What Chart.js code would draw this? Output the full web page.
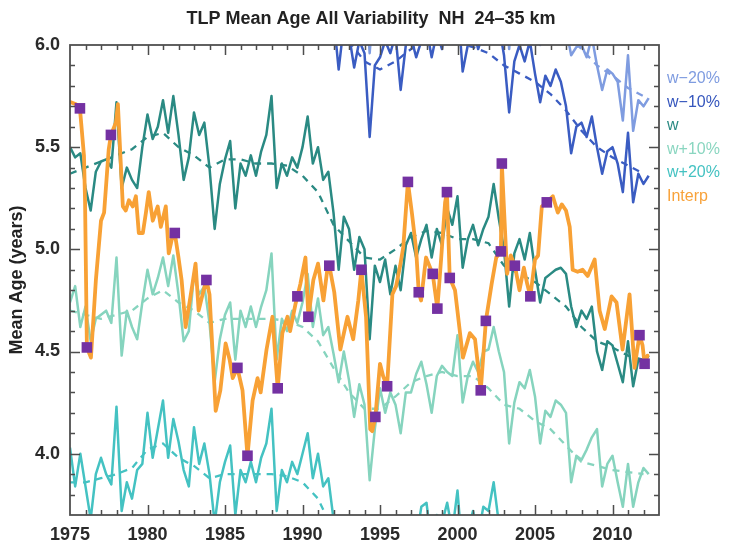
<!DOCTYPE html>
<html><head><meta charset="utf-8">
<script src="https://cdn.jsdelivr.net/npm/chart.js@4.4.1/dist/chart.umd.min.js"></script>
<style>html,body{margin:0;padding:0;background:#fff;}#wrap{width:730px;height:545px;}</style>
</head><body><div id="wrap"><canvas id="c" width="730" height="545"></canvas></div>
<script>
// ---- data (model output every 4 months) ----
const STEP = 1/3;
const wStart = 1975, wm10Start = 1990, wm20Start = 1992;
const wVals = [
 5.50,5.45,5.47, 5.30,5.19,5.38, 5.43,5.44,5.40, 5.72,5.30,5.40, 5.34,5.30,5.50,
 5.66,5.54,5.60, 5.73,5.57,5.75, 5.56,5.34,5.45, 5.67,5.56,5.62, 5.40,5.10,5.32,
 5.44,5.53,5.20, 5.42,5.36,5.46, 5.36,5.48,5.56, 5.75,5.30,5.42, 5.36,5.45,5.40,
 5.50,5.65,5.42, 5.50,5.34,5.38, 5.18,4.90,5.16, 5.10,4.90,5.06, 5.00,4.56,4.92,
 4.84,4.95,4.78, 4.92,4.80,5.02, 5.08,4.96,5.05, 5.12,4.96,5.10, 5.02,5.20,5.12,
 5.26,4.91,5.05, 5.12,5.02,5.10, 5.16,5.32,5.15, 5.00,4.72,4.98, 5.05,4.95,5.08,
 4.90,4.74,4.86, 4.88,4.90,4.91, 4.88,4.72,4.62, 4.70,4.66,4.72, 4.50,4.41,4.55,
 4.53,4.44,4.35, 4.55,4.33,4.46, 4.44,4.48];
const wp10Vals = [
 4.74,4.82,4.62, 4.72,4.55,4.66, 4.68,4.70,4.64, 4.96,4.48,4.70, 4.62,4.56,4.74,
 4.90,4.78,4.86, 4.96,4.82,4.97, 4.78,4.55,4.60, 4.88,4.78,4.82, 4.64,4.35,4.56,
 4.68,4.74,4.46, 4.70,4.62,4.72, 4.62,4.72,4.80, 4.98,4.46,4.66, 4.60,4.70,4.64,
 4.74,4.88,4.62, 4.76,4.58,4.62, 4.49,4.35,4.50, 4.36,4.18,4.34, 4.24,3.87,4.12,
 4.32,4.20,4.30, 4.24,4.10,4.30, 4.30,4.39,4.45, 4.34,4.20,4.38, 4.43,4.40,4.38,
 4.58,4.25,4.38, 4.45,4.40,4.50, 4.51,4.62,4.50, 4.40,4.05,4.25, 4.35,4.32,4.41,
 4.28,4.05,4.21, 4.18,4.26,4.24, 4.20,3.86,3.99, 3.97,4.02,4.08, 4.12,3.84,3.95,
 3.99,3.86,3.74, 3.95,3.74,3.86, 3.93,3.90];
const wp20Vals = [
 4.03,3.84,4.00, 3.84,3.68,3.90, 3.98,3.90,3.85, 4.23,3.72,3.86, 3.78,3.92,3.95,
 4.20,3.98,4.12, 4.26,3.98,4.17, 4.06,3.92,3.84, 4.13,3.95,4.05, 3.90,3.66,3.86,
 3.96,4.04,3.70, 3.92,3.86,3.96, 3.86,3.98,4.05, 4.22,3.72,3.92, 3.86,3.96,3.90,
 4.00,4.10,3.88, 4.00,3.84,3.88, 3.68,3.50,3.66, 3.58,3.42,3.55, 3.50,3.05,3.38,
 3.32,3.44,3.28, 3.40,3.30,3.52, 3.70,3.58,3.74, 3.76,3.55,3.70, 3.66,3.76,3.62,
 3.82,3.50,3.62, 3.72,3.60,3.74, 3.72,3.86,3.66, 3.48,3.22,3.46, 3.55,3.45,3.58,
 3.40,3.24,3.36, 3.38,3.40,3.41, 3.38,3.22,3.12, 3.20,3.16,3.22, 3.00,2.91,3.05,
 3.03,2.94,2.85, 3.05,2.83,2.96, 2.94,2.98];
const wm10Vals = [
 6.50,6.62,6.38, 6.46,6.30,6.34, 6.14,5.88,6.10, 6.05,5.89,6.02, 5.96,5.55,5.90,
 5.94,6.02,5.96, 6.05,5.78,6.00, 6.04,5.94,6.02, 6.08,5.94,6.06, 5.98,6.16,6.08,
 6.22,5.87,6.00, 6.08,5.98,6.06, 6.12,6.27,6.10, 5.95,5.67,5.92, 6.00,5.92,6.02,
 5.86,5.72,5.85, 5.80,5.88,5.82, 5.70,5.47,5.60, 5.62,5.55,5.65, 5.50,5.37,5.48,
 5.50,5.42,5.28, 5.57,5.23,5.37, 5.32,5.36];
const wm20Vals = [
 6.50,6.30,6.46, 6.40,6.28,6.38, 6.34,5.96,6.28, 6.32,6.40,6.34, 6.42,6.16,6.38,
 6.40,6.35,6.42, 6.48,6.40,6.50, 6.54,6.58,6.34, 6.36,6.25,6.40, 6.46,6.42,6.50,
 6.62,6.60,6.42, 6.32,5.98,6.30, 6.38,6.30,6.40, 6.24,6.00,6.22, 6.18,6.26,6.20,
 6.08,5.95,5.99, 6.00,5.94,6.04, 5.90,5.78,5.88, 5.86,5.82,5.63, 5.95,5.58,5.73,
 5.70,5.74];
// smoothed (dashed) trends, one value per year 1975..2012
const trendYears = [1975,1976,1977,1978,1979,1980,1981,1982,1983,1984,1985,1986,1987,1988,1989,1990,1991,1992,1993,
 1994,1995,1996,1997,1998,1999,2000,2001,2002,2003,2004,2005,2006,2007,2008,2009,2010,2011,2012];
const wTrend = [5.37,5.40,5.43,5.46,5.49,5.55,5.57,5.50,5.46,5.40,5.44,5.44,5.42,5.42,5.41,5.36,5.28,5.12,5.04,
 4.96,4.95,5.00,5.06,5.09,5.08,5.05,5.05,5.03,4.92,4.88,4.84,4.78,4.72,4.62,4.55,4.52,4.48,4.46];
const wp10Trend = [4.70,4.68,4.66,4.68,4.70,4.76,4.80,4.74,4.70,4.64,4.66,4.66,4.66,4.66,4.65,4.62,4.55,4.42,4.30,
 4.22,4.22,4.28,4.35,4.38,4.40,4.38,4.38,4.32,4.24,4.22,4.16,4.12,4.04,3.96,3.94,3.92,3.91,3.90];
const wp20Trend = [3.86,3.86,3.88,3.90,3.93,4.02,4.05,3.98,3.94,3.88,3.90,3.90,3.90,3.90,3.89,3.86,3.78,3.62,3.52,
 3.44,3.42,3.48,3.55,3.58,3.58,3.55,3.56,3.52,3.42,3.38,3.34,3.28,3.22,3.12,3.05,3.02,2.98,2.96];
const wm10Trend = [null,null,null,null,null,null,null,null,null,null,null,null,null,null,null,6.40,6.30,6.12,6.02,
 5.92,5.88,5.92,5.98,6.03,6.04,6.01,5.99,5.96,5.90,5.86,5.82,5.76,5.68,5.58,5.50,5.45,5.41,5.37];
const wm20Trend = [null,null,null,null,null,null,null,null,null,null,null,null,null,null,null,null,null,6.48,6.38,
 6.30,6.26,6.30,6.36,6.41,6.42,6.39,6.37,6.34,6.28,6.24,6.20,6.15,6.06,5.98,5.90,5.85,5.79,5.75];
// interpolated observations
const interpT = [1975.06,1975.39,1975.64,1975.90,1975.97,1976.09,1976.35,1976.67,1977.00,1977.20,
 1977.50,1977.64,1977.96,1978.09,1978.41,1978.60,1978.80,1979.05,1979.25,1979.44,
 1979.70,1979.90,1980.08,1980.34,1980.66,1980.86,1981.18,1981.37,1981.63,1981.76,
 1982.00,1982.20,1982.46,1982.90,1983.10,1983.30,1983.62,1983.80,1984.00,1984.40,
 1984.70,1985.04,1985.30,1985.50,1985.80,1986.13,1986.45,1986.78,1987.10,1987.30,
 1987.68,1988.06,1988.40,1988.70,1989.03,1989.20,1989.54,1989.67,1989.86,1990.19,
 1990.38,1990.70,1991.00,1991.35,1991.60,1991.73,1992.05,1992.44,1992.90,1993.27,
 1993.60,1993.80,1994.10,1994.37,1994.50,1994.70,1995.00,1995.20,1995.46,1995.80,
 1996.04,1996.30,1996.50,1996.80,1997.07,1997.33,1997.50,1997.65,1997.97,1998.40,
 1998.70,1998.94,1999.20,1999.32,1999.50,1999.84,2000.35,2000.80,2001.13,2001.50,
 2001.83,2002.20,2002.50,2002.80,2002.86,2003.20,2003.44,2003.70,2004.00,2004.28,
 2004.50,2004.70,2005.00,2005.20,2005.44,2005.76,2006.15,2006.47,2006.73,2007.00,
 2007.24,2007.43,2007.75,2008.07,2008.40,2008.85,2009.17,2009.50,2009.94,2010.26,
 2010.65,2011.10,2011.42,2011.74,2011.94,2012.07,2012.26];
const interpV = [5.72,5.71,5.69,5.46,5.24,4.52,4.47,4.85,5.14,5.18,
 5.49,5.56,5.62,5.71,5.21,5.19,5.24,5.21,5.26,5.08,
 5.08,5.18,5.28,5.14,5.21,5.11,5.21,4.98,5.07,5.08,
 4.96,4.85,4.62,4.83,4.93,4.70,4.80,4.85,4.78,4.21,
 4.31,4.54,4.46,4.37,4.42,4.31,3.99,4.26,4.37,4.30,
 4.51,4.67,4.32,4.59,4.67,4.60,4.73,4.77,4.83,4.96,
 4.67,4.85,4.93,4.75,4.90,4.92,4.79,4.51,4.67,4.56,
 4.75,4.90,4.67,4.12,4.11,4.18,4.44,4.38,4.33,4.78,
 4.82,4.92,5.01,5.33,5.17,5.00,4.79,4.75,4.96,4.88,
 4.71,4.95,5.23,5.28,4.86,4.80,4.47,4.59,4.56,4.31,
 4.65,4.83,4.96,4.99,5.42,4.88,4.97,4.92,4.80,4.91,
 4.83,4.77,4.95,4.97,5.21,5.23,5.26,5.18,5.22,5.19,
 5.11,4.90,4.89,4.90,4.87,4.95,4.70,4.61,4.77,4.74,
 4.51,4.78,4.42,4.58,4.53,4.44,4.48];
const obsT = [1975.64,1976.09,1977.64,1981.76,1983.80,1985.80,1986.45,1988.40,1989.67,1990.38,
 1991.73,1993.80,1994.70,1995.46,1996.80,1997.50,1998.40,1998.70,1999.32,1999.50,
 2001.50,2001.83,2002.80,2002.86,2003.70,2004.70,2005.76,2011.74,2012.07];
const obsV = [5.69,4.52,5.56,5.08,4.85,4.42,3.99,4.32,4.77,4.67,
 4.92,4.90,4.18,4.33,5.33,4.79,4.88,4.71,5.28,4.86,
 4.31,4.65,4.99,5.42,4.92,4.77,5.23,4.58,4.44];
const xTickVals = [1975,1980,1985,1990,1995,2000,2005,2010];
const yTickVals = [4.0,4.5,5.0,5.5,6.0];
const legendNames = ['w\u221220%','w\u221210%','w','w+10%','w+20%','Interp'];
const legendColors = ['#7f9ce0','#3556bd','#2a8a83','#8ad6c0','#44c2c2','#f8a23a'];
const TITLE = 'TLP Mean Age All Variability  NH  24\u201335 km';

// ---- colours ----
const C = {wm20:'#7f9ce0', wm10:'#3a5cc2', w:'#2a8a83', wp10:'#86d4be', wp20:'#44c2c2', interp:'#f8a135', obs:'#7431a2'};

const grid = (start, vals) => vals.map((v,i)=>({x: start + i*STEP, y: v}));
const pairs = (ts, vs) => ts.map((t,i)=>({x: t, y: vs[i]}));

function solid(label, data, color){ return {label, data, borderColor: color, borderWidth: 2.5, pointRadius: 0, tension: 0, fill: false, borderJoinStyle: 'round'}; }
function dashed(label, data, color){ return {label, data, borderColor: color, borderWidth: 2.3, borderDash: [7,6], pointRadius: 0, tension: 0, fill: false, spanGaps: false}; }

Chart.defaults.font.family = '"Liberation Sans", Arial, Helvetica, sans-serif';

const frameTicks = {
  id: 'frameTicks',
  afterDatasetsDraw(chart){
    const {ctx, chartArea: a, scales: {x, y}} = chart;
    ctx.save();
    ctx.strokeStyle = '#4d4d4d'; ctx.lineWidth = 1.5;
    ctx.beginPath();
    for (let yr = 1976; yr <= 2012; yr++){
      const px = Math.round(x.getPixelForValue(yr)) + 0.5;
      const len = yr % 5 === 0 ? 10 : 5;
      ctx.moveTo(px, a.bottom); ctx.lineTo(px, a.bottom - len);
      ctx.moveTo(px, a.top); ctx.lineTo(px, a.top + len);
    }
    for (let k = 38; k <= 59; k++){
      const py = Math.round(y.getPixelForValue(k/10)) + 0.5;
      const len = k % 5 === 0 ? 10 : 5;
      ctx.moveTo(a.left, py); ctx.lineTo(a.left + len, py);
      ctx.moveTo(a.right, py); ctx.lineTo(a.right - len, py);
    }
    ctx.stroke();
    ctx.strokeStyle = '#505050'; ctx.lineWidth = 1.8;
    ctx.strokeRect(a.left, a.top, a.right - a.left, a.bottom - a.top);
    ctx.restore();
  },
  afterDraw(chart){
    const {ctx, chartArea: a} = chart;
    ctx.save();
    ctx.fillStyle = '#222';
    ctx.font = 'bold 18px "Liberation Sans", Arial, sans-serif';
    ctx.textAlign = 'center'; ctx.textBaseline = 'middle';
    ctx.fillText(TITLE, 371, 19);
    ctx.font = '16px "Liberation Sans", Arial, sans-serif';
    ctx.textAlign = 'left';
    legendNames.forEach((n,i)=>{ ctx.fillStyle = legendColors[i]; ctx.fillText(n, a.right + 8, 79 + i*23.5); });
    ctx.restore();
  }
};

new Chart(document.getElementById('c'), {
  type: 'line',
  data: { datasets: [
    {label:'obs', data: pairs(obsT, obsV), showLine: false, pointStyle: 'rect', pointRadius: 7.5, pointHoverRadius: 7.5, pointBackgroundColor: C.obs, pointBorderWidth: 0, borderColor: C.obs, backgroundColor: C.obs},
    {label:'Interp', data: pairs(interpT, interpV), borderColor: C.interp, borderWidth: 3.8, pointRadius: 0, tension: 0, fill: false, borderJoinStyle: 'round', borderCapStyle: 'round'},
    solid('w', grid(wStart, wVals), C.w),
    dashed('w trend', pairs(trendYears, wTrend), C.w),
    solid('w-10%', grid(wm10Start, wm10Vals), C.wm10),
    dashed('w-10% trend', pairs(trendYears, wm10Trend), C.wm10),
    solid('w-20%', grid(wm20Start, wm20Vals), C.wm20),
    dashed('w-20% trend', pairs(trendYears, wm20Trend), C.wm20),
    solid('w+10%', grid(wStart, wp10Vals), C.wp10),
    dashed('w+10% trend', pairs(trendYears, wp10Trend), C.wp10),
    solid('w+20%', grid(wStart, wp20Vals), C.wp20),
    dashed('w+20% trend', pairs(trendYears, wp20Trend), C.wp20)
  ]},
  options: {
    responsive: false, animation: false, devicePixelRatio: 1,
    layout: { padding: { top: 45, right: 71, bottom: 0, left: 0 } },
    plugins: { legend: { display: false }, tooltip: { enabled: false }, title: { display: false } },
    scales: {
      x: { type: 'linear', min: 1975, max: 2013,
        grid: { display: false, drawTicks: false }, border: { display: false },
        afterBuildTicks: s => { s.ticks = xTickVals.map(v => ({value: v})); },
        afterFit: s => { s.height = 30; },
        ticks: { padding: 9, maxRotation: 0, autoSkip: false, color: '#2a2a2a', font: { size: 18, weight: 'bold' }, callback: v => String(v) } },
      y: { type: 'linear', min: 3.7, max: 6.0,
        grid: { display: false, drawTicks: false }, border: { display: false },
        afterBuildTicks: s => { s.ticks = yTickVals.map(v => ({value: v})); },
        afterFit: s => { s.width = 70; },
        title: { display: true, text: 'Mean Age (years)', color: '#222', font: { size: 18, weight: 'bold' }, padding: { top: 6, bottom: 0 } },
        ticks: { padding: 10, autoSkip: false, color: '#2a2a2a', font: { size: 18, weight: 'bold' }, callback: v => Number(v).toFixed(1) } }
    }
  },
  plugins: [frameTicks]
});
</script>
</body></html>
